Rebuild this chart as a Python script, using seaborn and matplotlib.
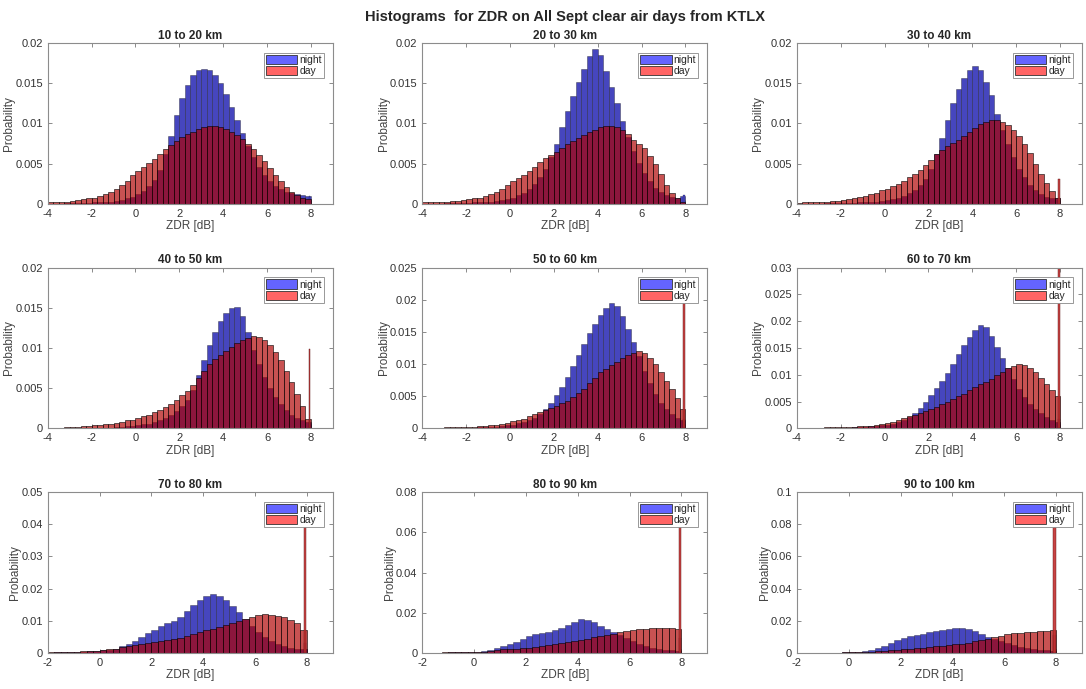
import numpy as np
import pandas as pd
import matplotlib
matplotlib.use('Agg')
import matplotlib.pyplot as plt
from matplotlib.patches import Patch
from matplotlib.ticker import FuncFormatter, MultipleLocator
import seaborn as sns

sns.set_style('ticks')
plt.rcParams['font.family'] = ['Liberation Sans', 'DejaVu Sans']
plt.rcParams['axes.unicode_minus'] = False

# range rings
ranges = ['10 to 20 km', '20 to 30 km', '30 to 40 km',
          '40 to 50 km', '50 to 60 km', '60 to 70 km',
          '70 to 80 km', '80 to 90 km', '90 to 100 km']

# probability per 0.25 dB bin
# top two rows: bins from -4 to 8 dB (48 bins), bottom row: -2 to 8 dB (40 bins)
night_10_20 = [0.0000, 0.0000, 0.0000, 0.0001, 0.0001, 0.0001, 0.0001, 0.0001,
               0.0002, 0.0002, 0.0003, 0.0003, 0.0004, 0.0005, 0.0007, 0.0009,
               0.0012, 0.0016, 0.0022, 0.0030, 0.0042, 0.0062, 0.0085, 0.0110,
               0.0132, 0.0148, 0.0160, 0.0166, 0.0168, 0.0166, 0.0160, 0.0150,
               0.0137, 0.0121, 0.0104, 0.0088, 0.0072, 0.0058, 0.0046, 0.0036,
               0.0028, 0.0022, 0.0018, 0.0015, 0.0013, 0.0012, 0.0011, 0.0010]
day_10_20 = [0.0002, 0.0002, 0.0003, 0.0003, 0.0004, 0.0005, 0.0006, 0.0007,
             0.0008, 0.0010, 0.0012, 0.0015, 0.0018, 0.0023, 0.0029, 0.0036,
             0.0041, 0.0046, 0.0051, 0.0056, 0.0062, 0.0068, 0.0073, 0.0078,
             0.0083, 0.0087, 0.0090, 0.0093, 0.0095, 0.0097, 0.0097, 0.0096,
             0.0093, 0.0090, 0.0086, 0.0081, 0.0075, 0.0068, 0.0061, 0.0053,
             0.0045, 0.0036, 0.0028, 0.0021, 0.0015, 0.0011, 0.0008, 0.0006]

night_20_30 = [0.0000, 0.0000, 0.0000, 0.0000, 0.0001, 0.0001, 0.0001, 0.0001,
               0.0001, 0.0002, 0.0002, 0.0003, 0.0003, 0.0004, 0.0005, 0.0006,
               0.0008, 0.0011, 0.0014, 0.0019, 0.0025, 0.0033, 0.0044, 0.0058,
               0.0075, 0.0095, 0.0115, 0.0134, 0.0152, 0.0168, 0.0184, 0.0193,
               0.0185, 0.0165, 0.0145, 0.0125, 0.0103, 0.0083, 0.0066, 0.0051,
               0.0038, 0.0028, 0.0020, 0.0015, 0.0011, 0.0009, 0.0008, 0.0010]
day_20_30 = [0.0002, 0.0002, 0.0002, 0.0003, 0.0003, 0.0004, 0.0004, 0.0005,
             0.0006, 0.0007, 0.0008, 0.0010, 0.0012, 0.0015, 0.0019, 0.0024,
             0.0028, 0.0032, 0.0036, 0.0041, 0.0046, 0.0052, 0.0057, 0.0061,
             0.0065, 0.0070, 0.0074, 0.0078, 0.0082, 0.0086, 0.0089, 0.0092,
             0.0095, 0.0097, 0.0097, 0.0095, 0.0092, 0.0087, 0.0080, 0.0075,
             0.0069, 0.0060, 0.0050, 0.0037, 0.0024, 0.0013, 0.0007, 0.0003]

night_30_40 = [0.0000, 0.0000, 0.0000, 0.0000, 0.0000, 0.0001, 0.0001, 0.0001,
               0.0001, 0.0001, 0.0001, 0.0002, 0.0002, 0.0003, 0.0003, 0.0004,
               0.0005, 0.0006, 0.0008, 0.0010, 0.0013, 0.0017, 0.0023, 0.0031,
               0.0044, 0.0062, 0.0082, 0.0104, 0.0125, 0.0143, 0.0157, 0.0166,
               0.0171, 0.0166, 0.0152, 0.0135, 0.0112, 0.0092, 0.0074, 0.0058,
               0.0044, 0.0033, 0.0024, 0.0017, 0.0012, 0.0009, 0.0007, 0.0007]
day_30_40 = [0.0001, 0.0002, 0.0002, 0.0002, 0.0003, 0.0003, 0.0004, 0.0004,
             0.0005, 0.0006, 0.0007, 0.0009, 0.0010, 0.0012, 0.0014, 0.0017,
             0.0019, 0.0022, 0.0025, 0.0029, 0.0033, 0.0037, 0.0042, 0.0048,
             0.0055, 0.0062, 0.0067, 0.0072, 0.0076, 0.0080, 0.0084, 0.0089,
             0.0094, 0.0099, 0.0102, 0.0104, 0.0104, 0.0102, 0.0098, 0.0092,
             0.0084, 0.0074, 0.0063, 0.0050, 0.0037, 0.0026, 0.0016, 0.0008]

night_40_50 = [0.0000, 0.0000, 0.0000, 0.0000, 0.0000, 0.0000, 0.0001, 0.0001,
               0.0001, 0.0001, 0.0001, 0.0001, 0.0002, 0.0002, 0.0003, 0.0003,
               0.0004, 0.0005, 0.0006, 0.0008, 0.0010, 0.0013, 0.0017, 0.0022,
               0.0028, 0.0036, 0.0048, 0.0066, 0.0085, 0.0104, 0.0120, 0.0133,
               0.0143, 0.0150, 0.0151, 0.0140, 0.0120, 0.0098, 0.0080, 0.0064,
               0.0050, 0.0039, 0.0030, 0.0023, 0.0017, 0.0013, 0.0010, 0.0008]
day_40_50 = [0.0001, 0.0001, 0.0001, 0.0002, 0.0002, 0.0002, 0.0003, 0.0003,
             0.0004, 0.0004, 0.0005, 0.0006, 0.0007, 0.0008, 0.0010, 0.0011,
             0.0013, 0.0015, 0.0017, 0.0020, 0.0023, 0.0027, 0.0031, 0.0036,
             0.0041, 0.0047, 0.0054, 0.0063, 0.0072, 0.0080, 0.0086, 0.0091,
             0.0096, 0.0101, 0.0106, 0.0110, 0.0113, 0.0115, 0.0114, 0.0110,
             0.0104, 0.0095, 0.0085, 0.0072, 0.0058, 0.0043, 0.0028, 0.0012]

night_50_60 = [0.0000, 0.0000, 0.0000, 0.0000, 0.0000, 0.0000, 0.0001, 0.0001,
               0.0001, 0.0001, 0.0002, 0.0002, 0.0003, 0.0003, 0.0004, 0.0005,
               0.0006, 0.0008, 0.0010, 0.0013, 0.0017, 0.0022, 0.0030, 0.0040,
               0.0052, 0.0065, 0.0080, 0.0097, 0.0114, 0.0131, 0.0148, 0.0163,
               0.0176, 0.0187, 0.0195, 0.0190, 0.0175, 0.0155, 0.0134, 0.0112,
               0.0090, 0.0070, 0.0053, 0.0040, 0.0030, 0.0022, 0.0016, 0.0013]
day_50_60 = [0.0001, 0.0001, 0.0001, 0.0001, 0.0002, 0.0002, 0.0002, 0.0002,
             0.0003, 0.0003, 0.0004, 0.0004, 0.0005, 0.0006, 0.0007, 0.0009,
             0.0011, 0.0013, 0.0015, 0.0019, 0.0022, 0.0025, 0.0028, 0.0032,
             0.0035, 0.0039, 0.0043, 0.0049, 0.0055, 0.0062, 0.0071, 0.0079,
             0.0087, 0.0093, 0.0099, 0.0104, 0.0109, 0.0114, 0.0118, 0.0120,
             0.0117, 0.0110, 0.0100, 0.0087, 0.0074, 0.0061, 0.0047, 0.0030]

night_60_70 = [0.0000, 0.0000, 0.0000, 0.0000, 0.0000, 0.0000, 0.0001, 0.0001,
               0.0001, 0.0001, 0.0002, 0.0002, 0.0003, 0.0004, 0.0005, 0.0006,
               0.0007, 0.0009, 0.0012, 0.0016, 0.0021, 0.0029, 0.0038, 0.0049,
               0.0062, 0.0075, 0.0089, 0.0104, 0.0120, 0.0138, 0.0155, 0.0170,
               0.0183, 0.0192, 0.0190, 0.0172, 0.0152, 0.0132, 0.0113, 0.0092,
               0.0074, 0.0059, 0.0046, 0.0036, 0.0028, 0.0021, 0.0016, 0.0013]
day_60_70 = [0.0001, 0.0001, 0.0001, 0.0001, 0.0001, 0.0002, 0.0002, 0.0002,
             0.0002, 0.0003, 0.0003, 0.0004, 0.0004, 0.0005, 0.0007, 0.0008,
             0.0010, 0.0012, 0.0015, 0.0019, 0.0023, 0.0026, 0.0029, 0.0032,
             0.0036, 0.0040, 0.0045, 0.0050, 0.0055, 0.0060, 0.0065, 0.0071,
             0.0077, 0.0082, 0.0087, 0.0093, 0.0099, 0.0106, 0.0112, 0.0116,
             0.0120, 0.0119, 0.0113, 0.0105, 0.0095, 0.0083, 0.0072, 0.0060]

night_70_80 = [0.0001, 0.0002, 0.0002, 0.0003, 0.0003, 0.0004, 0.0005, 0.0006,
               0.0008, 0.0010, 0.0014, 0.0021, 0.0029, 0.0038, 0.0049, 0.0061,
               0.0073, 0.0084, 0.0093, 0.0100, 0.0112, 0.0130, 0.0150, 0.0166,
               0.0177, 0.0182, 0.0177, 0.0164, 0.0146, 0.0126, 0.0106, 0.0085,
               0.0066, 0.0050, 0.0038, 0.0029, 0.0022, 0.0017, 0.0013, 0.0011]
day_70_80 = [0.0003, 0.0003, 0.0003, 0.0004, 0.0004, 0.0005, 0.0006, 0.0007,
             0.0009, 0.0011, 0.0014, 0.0018, 0.0022, 0.0025, 0.0027, 0.0030,
             0.0033, 0.0036, 0.0040, 0.0044, 0.0048, 0.0053, 0.0058, 0.0064,
             0.0070, 0.0075, 0.0080, 0.0086, 0.0092, 0.0098, 0.0105, 0.0112,
             0.0117, 0.0120, 0.0119, 0.0116, 0.0111, 0.0104, 0.0092, 0.0072]

night_80_90 = [0.0001, 0.0001, 0.0002, 0.0002, 0.0003, 0.0003, 0.0004, 0.0005,
               0.0007, 0.0010, 0.0016, 0.0025, 0.0035, 0.0045, 0.0057, 0.0072,
               0.0086, 0.0094, 0.0100, 0.0105, 0.0113, 0.0126, 0.0140, 0.0155,
               0.0167, 0.0165, 0.0153, 0.0135, 0.0120, 0.0106, 0.0090, 0.0073,
               0.0058, 0.0045, 0.0035, 0.0027, 0.0021, 0.0016, 0.0013, 0.0011]
day_80_90 = [0.0002, 0.0002, 0.0002, 0.0003, 0.0003, 0.0003, 0.0004, 0.0004,
             0.0005, 0.0007, 0.0010, 0.0015, 0.0018, 0.0020, 0.0022, 0.0024,
             0.0026, 0.0029, 0.0033, 0.0038, 0.0043, 0.0048, 0.0054, 0.0060,
             0.0066, 0.0072, 0.0078, 0.0085, 0.0091, 0.0097, 0.0103, 0.0109,
             0.0114, 0.0118, 0.0121, 0.0123, 0.0124, 0.0124, 0.0122, 0.0118]

night_90_100 = [0.0001, 0.0001, 0.0001, 0.0002, 0.0002, 0.0003, 0.0003, 0.0004,
                0.0006, 0.0008, 0.0013, 0.0021, 0.0032, 0.0045, 0.0060, 0.0078,
                0.0094, 0.0104, 0.0112, 0.0120, 0.0128, 0.0136, 0.0143, 0.0150,
                0.0155, 0.0155, 0.0148, 0.0135, 0.0119, 0.0102, 0.0087, 0.0072,
                0.0060, 0.0049, 0.0040, 0.0032, 0.0026, 0.0021, 0.0017, 0.0014]
day_90_100 = [0.0001, 0.0001, 0.0002, 0.0002, 0.0002, 0.0003, 0.0003, 0.0004,
              0.0005, 0.0006, 0.0007, 0.0009, 0.0011, 0.0013, 0.0016, 0.0019,
              0.0022, 0.0025, 0.0029, 0.0033, 0.0037, 0.0041, 0.0045, 0.0049,
              0.0054, 0.0059, 0.0065, 0.0072, 0.0080, 0.0089, 0.0098, 0.0108,
              0.0116, 0.0122, 0.0126, 0.0129, 0.0131, 0.0134, 0.0138, 0.0142]

# the clipped values pile up in the last narrow bin at 8 dB
night_spike = [0.0010, 0.0011, 0.0008, 0.0010, 0.0014, 0.0018, 0.0031, 0.0075, 0.0115]
day_spike = [0.0, 0.0, 0.0031, 0.0099, 0.0220, 0.0340, 0.0440, 0.0650, 0.0850]

night_all = [night_10_20, night_20_30, night_30_40, night_40_50, night_50_60,
             night_60_70, night_70_80, night_80_90, night_90_100]
day_all = [day_10_20, day_20_30, day_30_40, day_40_50, day_50_60,
           day_60_70, day_70_80, day_80_90, day_90_100]

ymax = [0.02, 0.02, 0.02, 0.02, 0.025, 0.03, 0.05, 0.08, 0.1]
ystep = [0.005, 0.005, 0.005, 0.005, 0.005, 0.005, 0.01, 0.02, 0.02]
xmin = [-4, -4, -4, -4, -4, -4, -2, -2, -2]

NIGHT = '#4646be'
DAY = '#ae0000'
txt = '#333333'

fig, axes = plt.subplots(3, 3, figsize=(10.86, 6.89), dpi=100)
fig.subplots_adjust(left=0.044, right=0.9963, top=0.9376, bottom=0.0522,
                    wspace=0.314, hspace=0.395)

fmt = FuncFormatter(lambda v, p: '%g' % round(v, 4))


def draw_hist(ax, centers, probs, bins, color, alpha, edge, lw=0.4):
    df = pd.DataFrame({'zdr': list(centers), 'prob': list(probs)})
    sns.histplot(data=df, x='zdr', weights='prob', bins=list(bins), ax=ax,
                 color=color, alpha=alpha, edgecolor=edge, linewidth=lw)


spike_bin = [7.90, 7.98]

for i, ax in enumerate(axes.flat):
    edges = np.arange(xmin[i], 8.001, 0.25)
    centers = edges[:-1] + 0.125

    draw_hist(ax, centers, night_all[i], edges, NIGHT, 1.0, (0, 0, 0, 0.55))
    draw_hist(ax, [7.94], [night_spike[i]], spike_bin, NIGHT, 1.0, (0.1, 0.1, 0.3), 0.2)
    draw_hist(ax, centers, day_all[i], edges, DAY, 0.68, 'black')
    if day_spike[i] > 0:
        draw_hist(ax, [7.94], [day_spike[i]], spike_bin, '#c23030', 0.9, '#5a1010', 0.3)

    ax.set_xlim(xmin[i], 9)
    ax.set_ylim(0, ymax[i])
    ax.xaxis.set_major_locator(MultipleLocator(2))
    ax.yaxis.set_major_locator(MultipleLocator(ystep[i]))
    ax.yaxis.set_major_formatter(fmt)
    ax.tick_params(direction='in', top=True, right=True, length=3, width=0.6,
                   labelsize=8, colors='#777777', labelcolor=txt)
    for s in ax.spines.values():
        s.set_edgecolor('#8c8c8c')
        s.set_linewidth(0.8)

    ax.set_title(ranges[i], fontsize=8.5, fontweight='bold', pad=3)
    ax.set_xlabel('ZDR [dB]', fontsize=8.5, color='#444444', labelpad=1)
    ax.set_ylabel('Probability', fontsize=8.5, color='#444444', labelpad=0)

    handles = [Patch(facecolor='#6464ff', edgecolor='#333333', linewidth=0.6, label='night'),
               Patch(facecolor='#ff6464', edgecolor='#333333', linewidth=0.6, label='day')]
    leg = ax.legend(handles=handles, loc='upper right', bbox_to_anchor=(0.968, 0.94),
                    fontsize=7.5, handlelength=3.0, handleheight=1.0, handletextpad=0.2,
                    borderpad=0.2, labelspacing=0.1, fancybox=False, framealpha=1,
                    edgecolor='#888888', borderaxespad=0)
    leg.get_frame().set_linewidth(0.6)

fig.suptitle('Histograms  for ZDR on All Sept clear air days from KTLX',
             fontsize=10.5, fontweight='bold', x=0.52, y=0.985)

fig.savefig('out.png', dpi=100)
